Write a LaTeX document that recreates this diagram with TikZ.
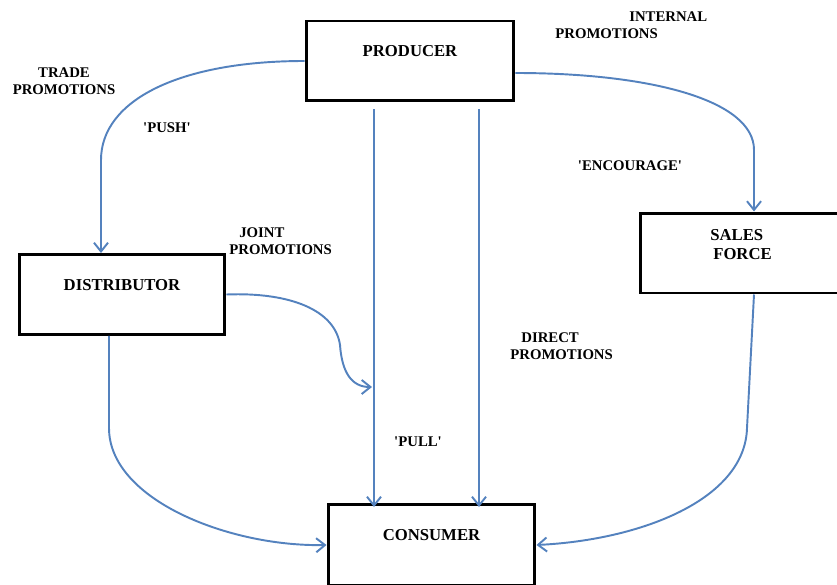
\documentclass[tikz,border=0pt]{standalone}
\usepackage{fontspec}
\setmainfont{Liberation Serif}
\usetikzlibrary{arrows.meta,calc}
\definecolor{flowblue}{RGB}{84,130,190}

\begin{document}
\begin{tikzpicture}[x=0.02cm, y=-0.02cm,
	box/.style={draw, line width=1.7pt, inner sep=0pt, minimum width=4.16cm,
		font=\bfseries\fontsize{9.5}{10.8}\selectfont, text height=0.71cm, text depth=0.89cm},
	lbl/.style={inner sep=0pt, font=\bfseries\fontsize{8.4}{9.8}\selectfont},
	flow/.style={flowblue, line width=1.1pt, -{Straight Barb[length=5pt,width=8pt]}}]
\clip (0,0) rectangle (837,584);

	\node [box] (producer) at (410,61) {PRODUCER};
	\node [box, minimum width=4.12cm] (distributor) at (122,294.5) {DISTRIBUTOR};
	\node [box, minimum width=4.14cm, text depth=0.91cm] (consumer) at (431.5,545) {CONSUMER};
	\node [box, minimum width=4.04cm, align=left, text height=0.92cm, text depth=0.68cm] (sales) at (741,253) {SALES\\\hspace*{0.06cm}FORCE};

	\coordinate (pullx) at (374,0);
	\coordinate (directx) at (479,0);
	\coordinate (joint) at (372,387);

	\draw [flow] (producer.west) .. controls (180,61) and (101,100) .. (101,160) -- ($(distributor.north)+(-21,0)$);
	\draw [flow] ($(producer.east)+(0,12)$) .. controls (650,73) and (754,100) .. (754,150) -- ($(sales.north)+(13,0)$);

	\draw [flow, shorten <=0.14cm, shorten >=-0.08cm] (producer.south -| pullx) -- (consumer.north -| pullx);
	\draw [flow, shorten <=0.14cm, shorten >=-0.08cm] (producer.south -| directx) -- (consumer.north -| directx);

	\draw [flow] (distributor.east) .. controls (290,292) and (335,310) .. (340,345) .. controls (342,373) and (352,387) .. (joint);
	\draw [flow] ($(distributor.south)+(-13,0)$) -- (109,428) .. controls (109,500) and (230,547) .. (consumer.west);
	\draw [flow] ($(sales.south)+(13,0)$) -- (747,428) .. controls (745,500) and (640,540) .. (consumer.east);

	\node [lbl, align=center] (trade) at (64,81.5) {TRADE\\PROMOTIONS};
	\node [lbl] (push) at (167,128) {\textquotesingle PUSH\textquotesingle};
	\node [lbl, align=left, anchor=west] (internal) at (555,25) {\hspace*{1.48cm}INTERNAL\\PROMOTIONS};
	\node [lbl] (encourage) at (630,166) {\textquotesingle ENCOURAGE\textquotesingle};
	\node [lbl, align=left, anchor=west] (jointlbl) at (229,241.5) {\hspace*{0.2cm}JOINT\\PROMOTIONS};
	\node [lbl, align=left, anchor=west] (directlbl) at (510,346.5) {\hspace*{0.22cm}DIRECT\\PROMOTIONS};
	\node [lbl] (pull) at (418,442) {\textquotesingle PULL\textquotesingle};
\end{tikzpicture}
\end{document}
